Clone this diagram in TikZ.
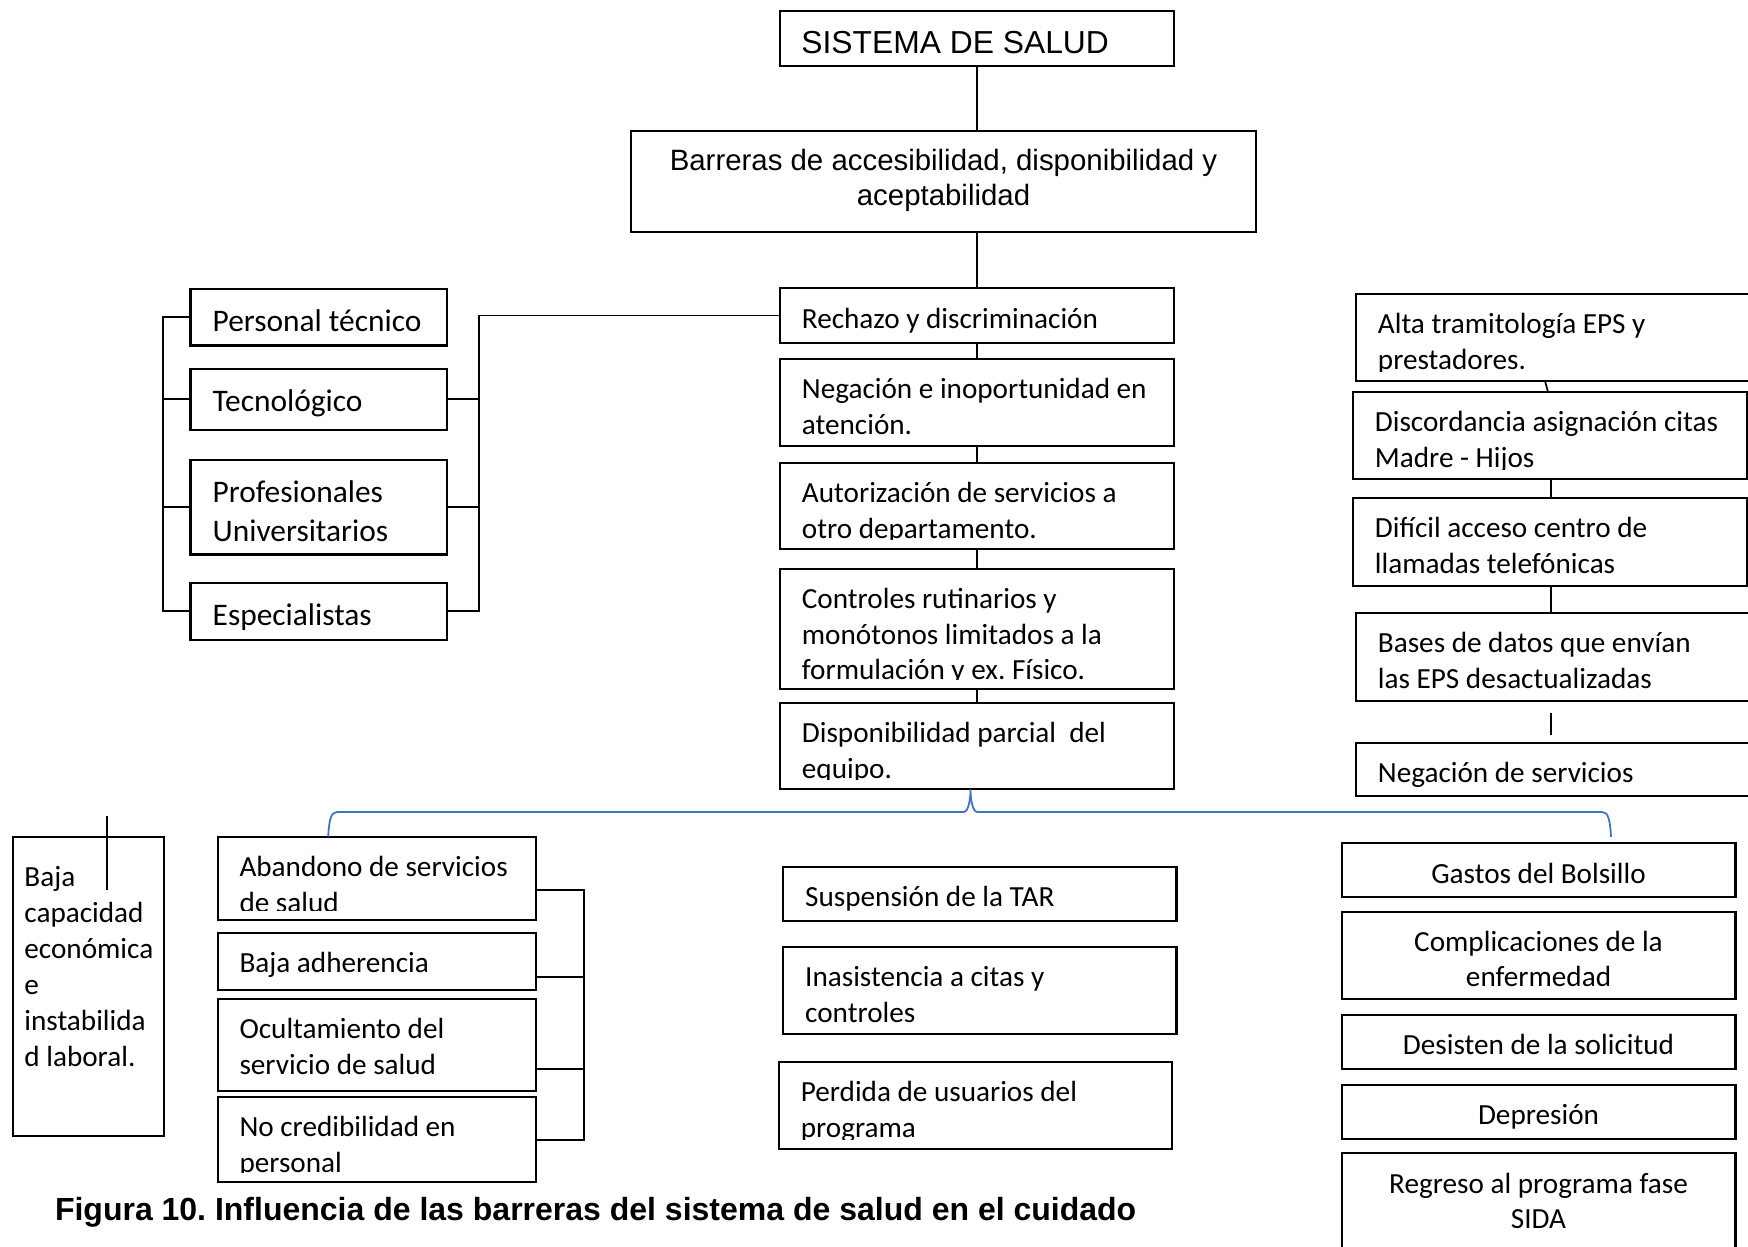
\documentclass[tikz,border=0pt]{standalone}
\usepackage{fontspec}
\setmainfont{Carlito}
\newfontfamily\arialfam{Liberation Sans}
\usetikzlibrary{calc}

\definecolor{braceblue}{RGB}{68,114,196}

\tikzset{
  boxframe/.style={draw=black, line width=1.1pt, rectangle, inner sep=0pt, outer sep=0pt},
  link/.style={draw=black, line width=0.85pt},
  bracecurve/.style={draw=braceblue, line width=0.9pt},
  txl/.style={anchor=north west, xshift=10.75pt, yshift=-5.83pt, inner sep=0pt, align=left,
    font=\fontsize{14.6pt}{17.85pt}\selectfont},
  txbig/.style={anchor=north west, xshift=10.9pt, yshift=-6.13pt, inner sep=0pt, align=left,
    font=\fontsize{15.7pt}{19.4pt}\selectfont},
  txc/.style={anchor=north, yshift=-5.83pt, inner sep=0pt, align=center,
    font=\fontsize{14.6pt}{17.6pt}\selectfont},
  txbaja/.style={anchor=north west, xshift=5.7pt, yshift=-10.83pt, inner sep=0pt, align=left,
    font=\fontsize{14.6pt}{17.95pt}\selectfont},
  sistxt/.style={anchor=north west, xshift=10.5pt, yshift=-6pt, inner sep=0pt, align=left,
    font=\arialfam\fontsize{15.9pt}{19pt}\selectfont},
  bartxt/.style={anchor=north, yshift=-5.8pt, inner sep=0pt, align=center,
    font=\arialfam\fontsize{14.7pt}{17.25pt}\selectfont},
  captxt/.style={inner sep=0pt, font=\arialfam\bfseries\fontsize{16pt}{19pt}\selectfont},
}

% #1 name, #2..#5 corners (x1,y1,x2,y2), #6 text style, #7 frame anchor for the text, #8 text
\newcommand\drawcell[8]{%
  \node[boxframe, minimum width={(#4-(#2))*0.5pt}, minimum height={(#5-(#3))*0.5pt}]
    (#1) at ({(#2+#4)/2},{(#3+#5)/2}) {};
  \begin{scope}
    \clip (#2,#3) rectangle (#4,{#5-9.5});
    \node[#6] (#1-t) at (#1.#7) {\rule{0pt}{0.95em}#8};
  \end{scope}}

\begin{document}
\frenchspacing
\begin{tikzpicture}[x=0.5pt,y=-0.5pt]
\useasboundingbox (0,0) rectangle (1748,1246);
\clip (0,0) rectangle (1748,1246);
\fill[white] (0,0) rectangle (1748,1246);

% top of the tree
\drawcell{sis}{780}{11}{1174}{66}{sistxt}{north west}{SISTEMA DE SALUD}
\drawcell{bar}{631}{131}{1256}{232}{bartxt}{north}{Barreras de accesibilidad, disponibilidad y\\aceptabilidad}

% central column
\drawcell{rech}{780}{288.3}{1174}{342.7}{txl}{north west}{Rechazo y discriminación}
\drawcell{neg}{780}{359}{1174}{446}{txl}{north west}{Negación e inoportunidad en\\atención.}
\drawcell{aut}{780}{462.7}{1174}{549.3}{txl}{north west}{Autorización de servicios a\\otro departamento.}
\drawcell{ctrl}{780}{568.7}{1174}{689.3}{txl}{north west}{Controles rutinarios y\\monótonos limitados a la\\formulación y ex. Físico.}
\drawcell{disp}{780}{702.7}{1174}{789.3}{txl}{north west}{Disponibilidad parcial\ \ del\\equipo.}

% staff column
\drawcell{pt}{190.5}{288.6}{447}{345.5}{txbig}{north west}{Personal técnico}
\drawcell{tec}{190.5}{368.6}{447}{430}{txbig}{north west}{Tecnológico}
\drawcell{prof}{190.5}{460}{447}{554.5}{txbig}{north west}{Profesionales\\Universitarios}
\drawcell{esp}{190.5}{582.8}{447}{639.7}{txbig}{north west}{Especialistas}

% administrative chain
\drawcell{alta}{1356}{293.8}{1762}{381}{txl}{north west}{Alta tramitología EPS y\\prestadores.}
\drawcell{disc}{1353}{392}{1746.7}{479}{txl}{north west}{Discordancia asignación citas\\Madre - Hijos}
\drawcell{dif}{1353}{498}{1746.7}{586}{txl}{north west}{Difícil acceso centro de\\llamadas telefónicas}
\drawcell{bases}{1356}{613}{1762}{700.7}{txl}{north west}{Bases de datos que envían\\las EPS desactualizadas}
\drawcell{negs}{1356}{743}{1762}{796}{txl}{north west}{Negación de servicios}

% consequences
\drawcell{baja}{12.6}{837}{163.6}{1136}{txbaja}{north west}{Baja\\capacidad\\económica\\e\\instabilida\\d laboral.}
\drawcell{aband}{217.6}{836.7}{535.6}{920.3}{txl}{north west}{Abandono de servicios\\de salud}
\drawcell{adh}{217.6}{932.7}{535.6}{990}{txl}{north west}{Baja adherencia}
\drawcell{ocult}{217.6}{998.7}{535.6}{1091}{txl}{north west}{Ocultamiento del\\servicio de salud}
\drawcell{nocred}{217.6}{1097}{535.6}{1182.3}{txl}{north west}{No credibilidad en\\personal}

\drawcell{susp}{783.3}{866.7}{1176.5}{921}{txl}{north west}{Suspensión de la TAR}
\drawcell{inas}{783.3}{946.7}{1176.5}{1034.3}{txl}{north west}{Inasistencia a citas y\\controles}
\drawcell{perd}{778.9}{1061.7}{1172}{1149.3}{txl}{north west}{Perdida de usuarios del\\programa}

\drawcell{gastos}{1341.6}{843.3}{1735.4}{897.3}{txc}{north}{Gastos del Bolsillo}
\drawcell{compl}{1341.6}{911.7}{1735.4}{999}{txc}{north}{Complicaciones de la\\enfermedad}
\drawcell{desist}{1341.6}{1015}{1735.4}{1068.7}{txc}{north}{Desisten de la solicitud}
\drawcell{depr}{1341.6}{1085}{1735.4}{1139.3}{txc}{north}{Depresión}
\drawcell{regr}{1341.6}{1153.3}{1735.4}{1262}{txc}{north}{Regreso al programa fase\\SIDA}

% vertical chain in the centre
\draw[link] (sis.south) -- (sis.south |- bar.north);
\draw[link] (bar.south -| rech.north) -- (rech.north);
\draw[link] (rech.south) -- (neg.north);
\draw[link] (neg.south) -- (aut.north);
\draw[link] (aut.south) -- (ctrl.north);
\draw[link] (ctrl.south) -- (disp.north);

% brackets around the staff column
\coordinate (lbar) at (163,0);
\coordinate (rbar) at (479,0);
\draw[link] (pt.west) -- (pt.west -| lbar) -- (esp.west -| lbar) -- (esp.west);
\draw[link] (tec.west) -- (tec.west -| lbar);
\draw[link] (prof.west) -- (prof.west -| lbar);
\draw[link] (rech.west) -- (rech.west -| rbar) -- (esp.east -| rbar) -- (esp.east);
\draw[link] (tec.east) -- (tec.east -| rbar);
\draw[link] (prof.east) -- (prof.east -| rbar);

% administrative chain links
\draw[link] ([xshift=94.5pt]alta.south west) -- ([xshift=97.5pt]disc.north west);
\draw[link] ([xshift=99pt]disc.south west) -- ([xshift=99pt]dif.north west);
\draw[link] ([xshift=99pt]dif.south west) -- ([xshift=97.5pt]bases.north west);
\draw[link] ([xshift=97.5pt,yshift=-6.15pt]bases.south west) -- ([xshift=97.5pt,yshift=4pt]negs.north west);

% bracket of the adherence boxes
\coordinate (rb2) at (584,0);
\coordinate (a1) at ([yshift=-5.75pt]aband.east);
\coordinate (a2) at ([yshift=-7.8pt]adh.east);
\coordinate (a3) at ([yshift=-12pt]ocult.east);
\draw[link] (a1) -- (a1 -| rb2) -- (nocred.east -| rb2) -- (nocred.east);
\draw[link] (a2) -- (a2 -| rb2);
\draw[link] (a3) -- (a3 -| rb2);

% short line across the top of the income box
\draw[link] ([xshift=47.1pt,yshift=10.5pt]baja.north west) -- ([xshift=47.1pt,yshift=-26.5pt]baja.north west);

% blue brace under the central column
\coordinate (bL) at ([xshift=55.3pt]aband.north west);
\coordinate (bT) at ([xshift=-3.25pt]disp.south);
\coordinate (bR) at ([xshift=134.7pt,yshift=3.2pt]gastos.north west);
\coordinate (bH) at (0,812);
\draw[bracecurve] (bL) .. controls +(1,-18) and +(-6,0) .. ($(bL |- bH)+(9,0)$)
  -- ($(bT |- bH)+(-7,0)$) .. controls +(5,0) and +(0,10) .. (bT)
  .. controls +(0,10) and +(-5,0) .. ($(bT |- bH)+(7,0)$)
  -- ($(bR |- bH)+(-9,0)$) .. controls +(6,0) and +(-1,-18) .. (bR);

% caption
\node[captxt, anchor=base west] (cap) at (54.6,1220.5)
  {Figura 10. Influencia de las barreras del sistema de salud en el cuidado};
\end{tikzpicture}
\end{document}
